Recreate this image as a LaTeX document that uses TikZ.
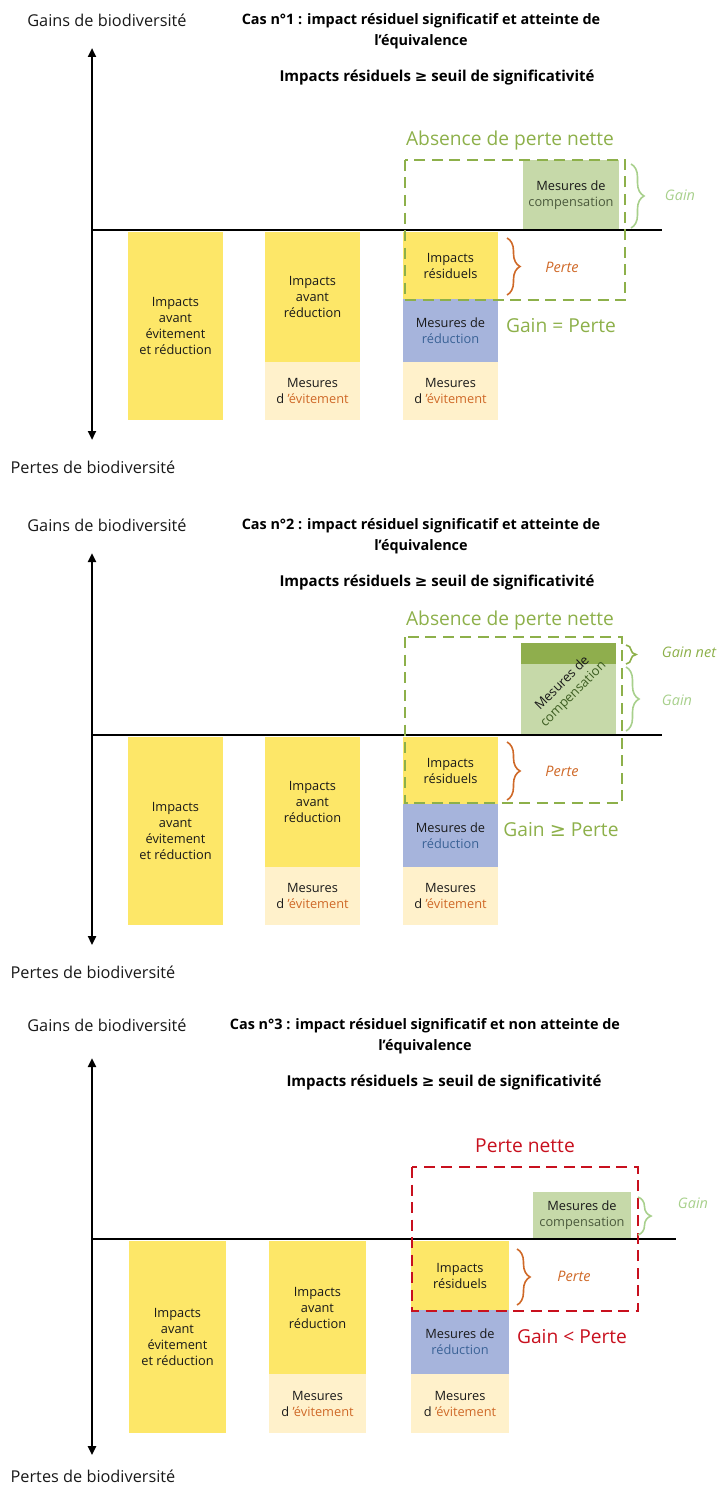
\documentclass[tikz,border=0pt]{standalone}
\usepackage{fontspec}
\setmainfont{Open Sans}
\newfontfamily\symf{DejaVu Sans}
\usetikzlibrary{arrows.meta,decorations.pathreplacing}
\definecolor{cyellow}{RGB}{253,231,104}
\definecolor{clight}{RGB}{255,241,203}
\definecolor{cblue}{RGB}{166,180,220}
\definecolor{cbluetxt}{RGB}{58,98,150}
\definecolor{ccomp}{RGB}{198,217,169}
\definecolor{ccompdark}{RGB}{143,174,77}
\definecolor{ccomptxt}{RGB}{75,90,60}
\definecolor{ccomptxtb}{RGB}{62,95,35}
\definecolor{cgreen}{RGB}{141,176,74}
\definecolor{clgreen}{RGB}{168,208,140}
\definecolor{corange}{RGB}{207,105,40}
\definecolor{cred}{RGB}{200,16,30}
\definecolor{ctext}{RGB}{25,25,25}
\begin{document}
\begin{tikzpicture}[x=1pt,y=-1pt,
  box/.style={inner sep=0pt, outer sep=0pt, anchor=north west, align=center, text=ctext,
    font=\fontsize{12.8}{16}\selectfont},
  axis/.style={line width=2.4pt, {Triangle[width=8pt,length=9pt]}-{Triangle[width=8pt,length=9pt]}},
  hline/.style={line width=2.6pt},
  axlab/.style={font=\fontsize{16.3}{19}\selectfont, text=ctext, inner sep=0pt},
  ttl/.style={font=\fontsize{14.4}{21}\selectfont\bfseries, align=center, text=black, inner sep=0pt},
  sub/.style={font=\fontsize{15}{18}\selectfont\bfseries, text=black, inner sep=0pt},
  gdash/.style={draw=cgreen, line width=2.8pt, dash pattern=on 11pt off 6.5pt},
  rdash/.style={draw=cred, line width=2.8pt, dash pattern=on 11pt off 6.5pt},
  big/.style={font=\fontsize{19.2}{22}\selectfont, inner sep=0pt},
  blab/.style={font=\fontsize{14.5}{17}\selectfont\itshape, inner sep=0pt},
  lbrace/.style={decorate, decoration={brace, amplitude=13pt}, line width=1.6pt, draw=clgreen},
  obrace/.style={decorate, decoration={brace, amplitude=13pt}, line width=1.6pt, draw=corange},
  dbrace/.style={decorate, decoration={brace, amplitude=10pt}, line width=1.6pt, draw=cgreen}
]
\useasboundingbox (0,0) rectangle (718,1490);

% ================= Panel 1 =================
\node[axlab] (p1gain) at (107,20) {Gains de biodiversité};
\node[ttl] (p1t) at (421,31) {Cas n°1 : impact résiduel significatif et atteinte de\\l’équivalence};
\node[sub] (p1s) at (437,78) {Impacts résiduels {\symf ≥} seuil de significativité};
\node[box, fill=cyellow, minimum width=95pt, minimum height=188pt] (p1a) at (128,232) {Impacts\\avant\\évitement\\et réduction};
\node[box, fill=cyellow, minimum width=95pt, minimum height=130pt] (p1b1) at (265,232) {Impacts\\avant\\réduction};
\node[box, fill=clight, minimum width=95pt, minimum height=58pt] (p1b2) at (265,362) {Mesures\\d {\color{corange}’évitement}};
\node[box, fill=cyellow, minimum width=95pt, minimum height=67pt] (p1c1) at (403,232) {Impacts\\résiduels};
\node[box, fill=cblue, minimum width=95pt, minimum height=63pt] (p1c2) at (403,299) {Mesures de\\{\color{cbluetxt}réduction}};
\node[box, fill=clight, minimum width=95pt, minimum height=58pt] (p1c3) at (403,362) {Mesures\\d {\color{corange}’évitement}};
\node[box, fill=ccomp, minimum width=96pt, minimum height=70pt] (p1d) at (523,160) {Mesures de\\{\color{ccomptxt}compensation}};
\coordinate (p1top) at (92,48);
\coordinate (p1bot) at (92,440);
\draw[axis] (p1bot) -- (p1top);
\coordinate (p1l) at (92,230);
\coordinate (p1r) at (662,230);
\draw[hline] (p1l) -- (p1r);
\node[axlab] (p1loss) at (93,467) {Pertes de biodiversité};
\draw[gdash] (405,160) rectangle (625,300);
\node[big, text=cgreen] (p1abs) at (510,141) {Absence de perte nette};
\draw[lbrace] (631,164) -- (631,228);
\node[blab, text=clgreen] (p1gl) at (680,195) {Gain};
\draw[obrace] (507,238) -- (507,295);
\node[blab, text=corange] (p1pl) at (562,267) {Perte};
\node[big, text=cgreen] (p1eq) at (561,326) {Gain = Perte};

% ================= Panel 2 =================
\begin{scope}[shift={(0,505)}]
\node[axlab] (p2gain) at (107,20) {Gains de biodiversité};
\node[ttl] (p2t) at (421,31) {Cas n°2 : impact résiduel significatif et atteinte de\\l’équivalence};
\node[sub] (p2s) at (437,78) {Impacts résiduels {\symf ≥} seuil de significativité};
\node[box, fill=cyellow, minimum width=95pt, minimum height=188pt] (p2a) at (128,232) {Impacts\\avant\\évitement\\et réduction};
\node[box, fill=cyellow, minimum width=95pt, minimum height=130pt] (p2b1) at (265,232) {Impacts\\avant\\réduction};
\node[box, fill=clight, minimum width=95pt, minimum height=58pt] (p2b2) at (265,362) {Mesures\\d {\color{corange}’évitement}};
\node[box, fill=cyellow, minimum width=95pt, minimum height=67pt] (p2c1) at (403,232) {Impacts\\résiduels};
\node[box, fill=cblue, minimum width=95pt, minimum height=63pt] (p2c2) at (403,299) {Mesures de\\{\color{cbluetxt}réduction}};
\node[box, fill=clight, minimum width=95pt, minimum height=58pt] (p2c3) at (403,362) {Mesures\\d {\color{corange}’évitement}};
\node[box, fill=ccomp, minimum width=95pt, minimum height=92pt] (p2d) at (521,138) {};
\node[box, fill=ccompdark, minimum width=95pt, minimum height=21pt] (p2dn) at (521,138) {};
\node[box, rotate=45, anchor=center, font=\fontsize{13}{15.5}\selectfont] (p2dt) at (568,184) {Mesures de\\{\color{ccomptxtb}compensation}};
\coordinate (p2top) at (92,48);
\coordinate (p2bot) at (92,440);
\draw[axis] (p2bot) -- (p2top);
\coordinate (p2l) at (92,230);
\coordinate (p2r) at (662,230);
\draw[hline] (p2l) -- (p2r);
\node[axlab] (p2loss) at (93,467) {Pertes de biodiversité};
\draw[gdash] (405,132) rectangle (622,298);
\node[big, text=cgreen] (p2abs) at (510,116) {Absence de perte nette};
\draw[dbrace] (626,140) -- (626,159);
\node[blab, text=cgreen] (p2gnl) at (689,147) {Gain net};
\draw[lbrace] (626,162) -- (626,226);
\node[blab, text=clgreen] (p2gl) at (677,195) {Gain};
\draw[obrace] (507,237) -- (507,295);
\node[blab, text=corange] (p2pl) at (562,266) {Perte};
\node[big, text=cgreen] (p2eq) at (561,325) {Gain {\symf ≥} Perte};
\end{scope}

% ================= Panel 3 =================
\node[axlab] (p3gain) at (107,1025) {Gains de biodiversité};
\node[ttl] (p3t) at (425,1036) {Cas n°3 : impact résiduel significatif et non atteinte de\\l’équivalence};
\node[sub] (p3s) at (444,1083) {Impacts résiduels {\symf ≥} seuil de significativité};
\node[box, fill=cyellow, minimum width=97pt, minimum height=192pt] (p3a) at (129,1241) {Impacts\\avant\\évitement\\et réduction};
\node[box, fill=cyellow, minimum width=97pt, minimum height=133pt] (p3b1) at (269,1241) {Impacts\\avant\\réduction};
\node[box, fill=clight, minimum width=97pt, minimum height=59pt] (p3b2) at (269,1374) {Mesures\\d {\color{corange}’évitement}};
\node[box, fill=cyellow, minimum width=98pt, minimum height=69pt] (p3c1) at (411,1241) {Impacts\\résiduels};
\node[box, fill=cblue, minimum width=98pt, minimum height=64pt] (p3c2) at (411,1310) {Mesures de\\{\color{cbluetxt}réduction}};
\node[box, fill=clight, minimum width=98pt, minimum height=59pt] (p3c3) at (411,1374) {Mesures\\d {\color{corange}’évitement}};
\node[box, fill=ccomp, minimum width=98pt, minimum height=46pt] (p3d) at (533,1192) {Mesures de\\{\color{ccomptxt}compensation}};
\coordinate (p3top) at (92,1058);
\coordinate (p3bot) at (92,1455);
\draw[axis] (p3bot) -- (p3top);
\coordinate (p3l) at (92,1239);
\coordinate (p3r) at (676,1239);
\draw[hline] (p3l) -- (p3r);
\node[axlab] (p3loss) at (93,1476) {Pertes de biodiversité};
\draw[rdash] (412,1167) rectangle (638,1311);
\node[big, text=cred] (p3abs) at (525,1146) {Perte nette};
\draw[lbrace] (638,1197) -- (638,1235);
\node[blab, text=clgreen] (p3gl) at (693,1203) {Gain};
\draw[obrace] (517,1249) -- (517,1305);
\node[blab, text=corange] (p3pl) at (574,1276) {Perte};
\node[big, text=cred] (p3eq) at (572,1337) {Gain < Perte};
\end{tikzpicture}
\end{document}
